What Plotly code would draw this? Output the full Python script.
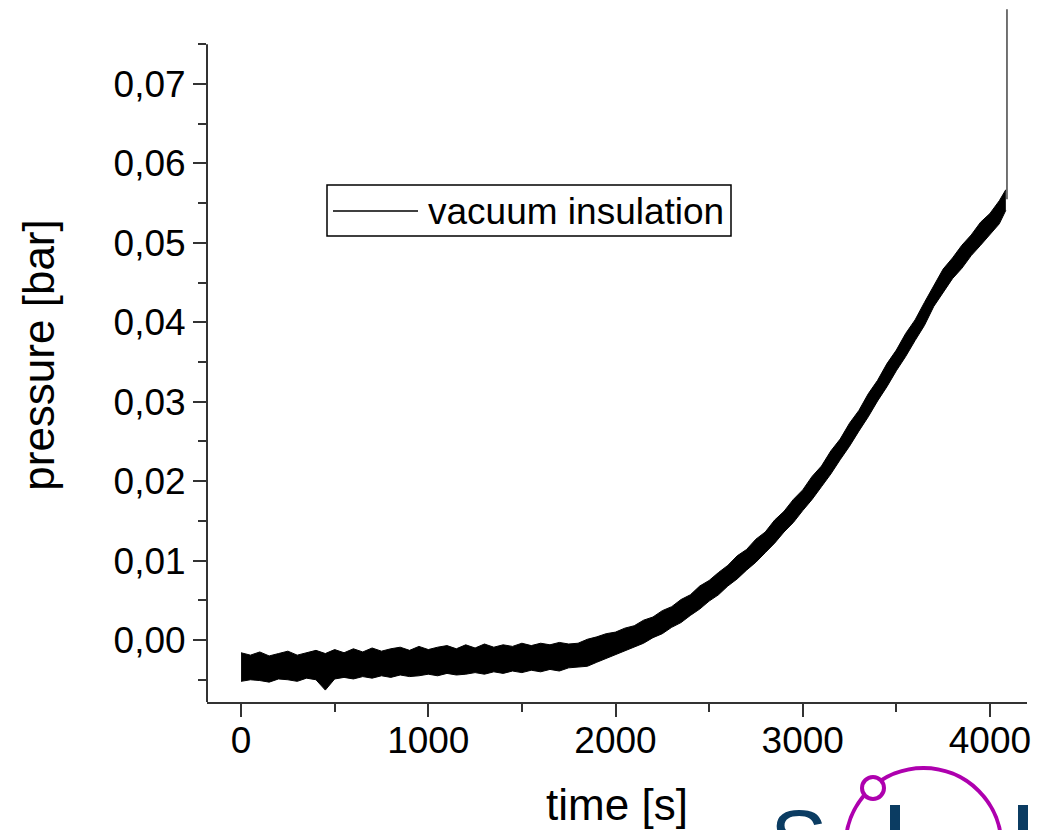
import plotly.graph_objects as go

# ---------------- data ----------------
time_s = [0, 50, 100, 150, 200, 250, 300, 350, 400, 450, 500, 550, 600, 650, 700, 750,
          800, 850, 900, 950, 1000, 1050, 1100, 1150, 1200, 1250, 1300, 1350, 1400, 1450,
          1500, 1550, 1600, 1650, 1700, 1750, 1800, 1850, 1900, 1950, 2000, 2050, 2100,
          2150, 2200, 2250, 2300, 2350, 2400, 2450, 2500, 2550, 2600, 2650, 2700, 2750,
          2800, 2850, 2900, 2950, 3000, 3050, 3100, 3150, 3200, 3250, 3300, 3350, 3400,
          3450, 3500, 3550, 3600, 3650, 3700, 3750, 3800, 3850, 3900, 3950, 4000, 4050, 4085]

pressure_high = [-0.0016, -0.0019, -0.0015, -0.0020, -0.0017, -0.0014, -0.0019, -0.0016,
                 -0.0013, -0.0017, -0.0012, -0.0016, -0.0011, -0.0015, -0.0010, -0.0014,
                 -0.0011, -0.0009, -0.0013, -0.0008, -0.0012, -0.0009, -0.0007, -0.0011,
                 -0.0006, -0.0010, -0.0005, -0.0009, -0.0006, -0.0008, -0.0004, -0.0007,
                 -0.0004, -0.0006, -0.0003, -0.0005, -0.0004, 0.0001, 0.0004, 0.0008,
                 0.0010, 0.0015, 0.0018, 0.0025, 0.0029, 0.0037, 0.0042, 0.0051, 0.0057,
                 0.0068, 0.0075, 0.0085, 0.0094, 0.0106, 0.0114, 0.0127, 0.0136, 0.0151,
                 0.0162, 0.0177, 0.0189, 0.0206, 0.0219, 0.0238, 0.0253, 0.0273, 0.0289,
                 0.0310, 0.0327, 0.0348, 0.0365, 0.0386, 0.0403, 0.0425, 0.0446, 0.0467,
                 0.0481, 0.0497, 0.0510, 0.0526, 0.0537, 0.0553, 0.0567]

pressure_low = [-0.0052, -0.0050, -0.0051, -0.0053, -0.0049, -0.0050, -0.0052, -0.0048,
                -0.0050, -0.0063, -0.0049, -0.0047, -0.0049, -0.0046, -0.0048, -0.0045,
                -0.0047, -0.0044, -0.0046, -0.0045, -0.0043, -0.0045, -0.0042, -0.0044,
                -0.0043, -0.0041, -0.0043, -0.0040, -0.0042, -0.0039, -0.0041, -0.0038,
                -0.0040, -0.0037, -0.0039, -0.0035, -0.0034, -0.0033, -0.0028, -0.0023,
                -0.0018, -0.0013, -0.0009, -0.0004, 0.0003, 0.0008, 0.0016, 0.0022, 0.0031,
                0.0039, 0.0049, 0.0057, 0.0068, 0.0077, 0.0088, 0.0098, 0.0110, 0.0122,
                0.0136, 0.0148, 0.0163, 0.0177, 0.0193, 0.0209, 0.0227, 0.0244, 0.0263,
                0.0281, 0.0301, 0.0319, 0.0339, 0.0357, 0.0377, 0.0396, 0.0420, 0.0438,
                0.0455, 0.0468, 0.0484, 0.0497, 0.0511, 0.0524, 0.0541]

spike_time = [4091, 4091]
spike_pressure = [0.0555, 0.0794]

series_name = "vacuum insulation"

x_tickvals = [0, 1000, 2000, 3000, 4000]
x_ticktext = ["0", "1000", "2000", "3000", "4000"]
x_minorvals = [500, 1500, 2500, 3500]

y_tickvals = [0.00, 0.01, 0.02, 0.03, 0.04, 0.05, 0.06, 0.07]
y_ticktext = ["0,00", "0,01", "0,02", "0,03", "0,04", "0,05", "0,06", "0,07"]
y_minorvals = [-0.005, 0.005, 0.015, 0.025, 0.035, 0.045, 0.055, 0.065, 0.075]

x_title = "time [s]"
y_title = "pressure [bar]"

# ---------------- layout geometry ----------------
# The page has an 8px body margin, so window pixel = figure pixel + 8.
OFF = 8
W, H = 1042, 830
L, R, T, B = 199, 23, 0, 136
PW, PH = W - L - R, H - T - B
X_RANGE = [-182, 4198]
Y_RANGE = [-0.0078, 0.07957]
Y_AXIS_TOP = 0.075
FONT = "Liberation Sans, Arial, sans-serif"
AXIS_COLOR = "#333333"
BLUE = "#0B3C62"
MAGENTA = "#AE00AE"


def px(xw):
    return (xw - OFF - L) / PW


def py(yw):
    return (H - B - (yw - OFF)) / PH


fig = go.Figure()

fig.add_trace(go.Scatter(x=time_s, y=pressure_low, mode="lines",
                         line=dict(color="black", width=1), showlegend=False,
                         hoverinfo="skip"))
fig.add_trace(go.Scatter(x=time_s, y=pressure_high, mode="lines", fill="tonexty",
                         fillcolor="black", line=dict(color="black", width=1),
                         showlegend=False, hoverinfo="skip"))
fig.add_trace(go.Scatter(x=spike_time, y=spike_pressure, mode="lines",
                         line=dict(color="#444444", width=1.5), name=series_name,
                         showlegend=False))

shapes = []
# y axis line (stops at 0.075 like the original)
y_top_paper = (Y_AXIS_TOP - Y_RANGE[0]) / (Y_RANGE[1] - Y_RANGE[0])
shapes.append(dict(type="line", xref="paper", yref="paper", x0=0, x1=0, y0=0,
                   y1=y_top_paper, line=dict(color=AXIS_COLOR, width=2)))
# legend box
shapes.append(dict(type="rect", xref="paper", yref="paper", x0=px(327), x1=px(731),
                   y0=py(236), y1=py(185), line=dict(color="black", width=1.5),
                   fillcolor="white", layer="below"))
shapes.append(dict(type="line", xref="paper", yref="paper", x0=px(333), x1=px(418),
                   y0=py(211), y1=py(211), line=dict(color="black", width=1.5)))
# logo fragment (bottom right)
shapes.append(dict(type="rect", xref="paper", yref="paper", x0=px(890), x1=px(900),
                   y0=py(850), y1=py(805), line=dict(width=0), fillcolor=BLUE))
shapes.append(dict(type="rect", xref="paper", yref="paper", x0=px(1018), x1=px(1028),
                   y0=py(850), y1=py(805), line=dict(width=0), fillcolor=BLUE))
shapes.append(dict(type="circle", xref="paper", yref="paper", x0=px(845.5), x1=px(1001.5),
                   y0=py(924), y1=py(768), line=dict(color=MAGENTA, width=4)))
shapes.append(dict(type="circle", xref="paper", yref="paper", x0=px(862), x1=px(884),
                   y0=py(799), y1=py(777), line=dict(color=MAGENTA, width=4),
                   fillcolor="white"))

annotations = [
    dict(text=series_name, xref="paper", yref="paper", x=px(426), y=py(211),
         xanchor="left", yanchor="middle", showarrow=False,
         font=dict(family=FONT, size=37, color="black")),
    dict(text="S", xref="paper", yref="paper", x=px(798), y=py(790),
         xanchor="center", yanchor="top", showarrow=False,
         font=dict(family=FONT, size=86, color=BLUE)),
]

axis_common = dict(showgrid=False, zeroline=False, ticks="outside", ticklen=13,
                   tickwidth=2, tickcolor=AXIS_COLOR, automargin=False,
                   tickfont=dict(family=FONT, size=37, color="black"))

fig.update_layout(
    width=W, height=H,
    margin=dict(l=L, r=R, t=T, b=B, pad=0),
    paper_bgcolor="white", plot_bgcolor="white",
    template="none",
    showlegend=False,
    font=dict(family=FONT, color="black"),
    xaxis=dict(range=X_RANGE, tickmode="array", tickvals=x_tickvals, ticktext=x_ticktext,
               showline=True, linecolor=AXIS_COLOR, linewidth=2, ticklabelstandoff=-8,
               minor=dict(tickmode="array", tickvals=x_minorvals, ticks="outside",
                          ticklen=8, tickwidth=2, tickcolor=AXIS_COLOR),
               title=dict(text=x_title, font=dict(family=FONT, size=44, color="black"),
                          standoff=29),
               **axis_common),
    yaxis=dict(range=Y_RANGE, tickmode="array", tickvals=y_tickvals, ticktext=y_ticktext,
               showline=False,
               minor=dict(tickmode="array", tickvals=y_minorvals, ticks="outside",
                          ticklen=8, tickwidth=2, tickcolor=AXIS_COLOR),
               title=dict(text=y_title, font=dict(family=FONT, size=44, color="black"),
                          standoff=45),
               **axis_common),
    shapes=shapes,
    annotations=annotations,
)

fig.write_html("out.html")
